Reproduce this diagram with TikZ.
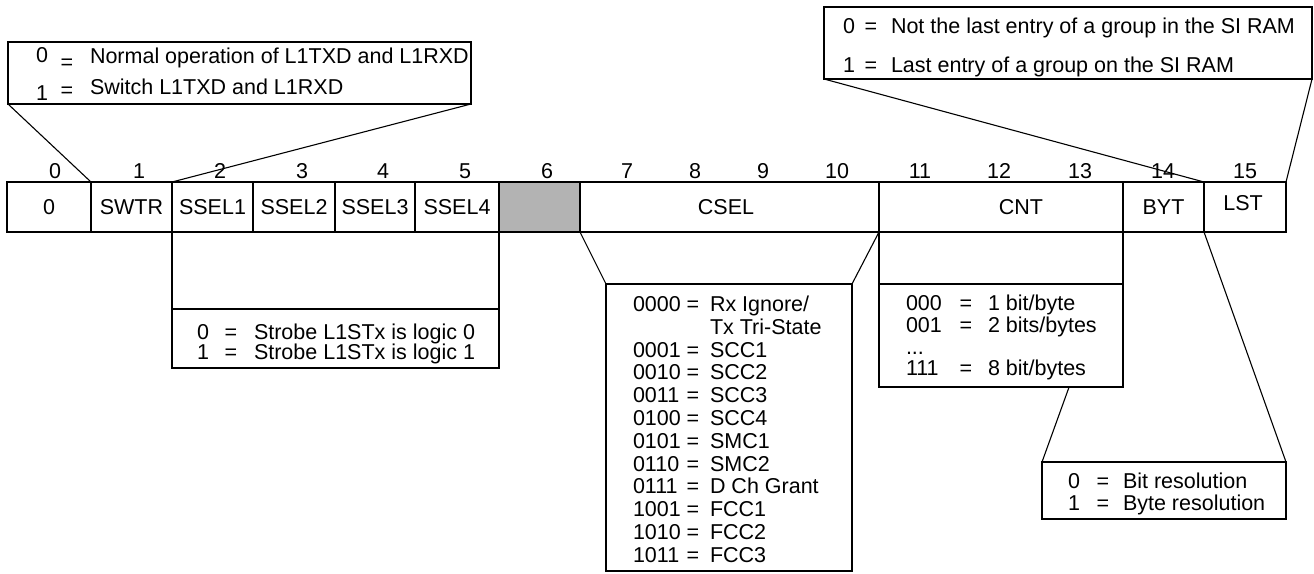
\documentclass[tikz,border=0pt]{standalone}
\usepackage{fontspec}
\setmainfont{Liberation Sans}
\usetikzlibrary{calc}
\definecolor{regrey}{RGB}{179,179,179}
\begin{document}
\begin{tikzpicture}[x=1pt,y=-1pt,
  txt/.style={inner sep=0pt, outer sep=0pt, font=\fontsize{21.5}{24}\selectfont},
  cell/.style={draw, line width=2.8pt, inner sep=0pt, outer sep=0pt, minimum height=50pt, font=\fontsize{21.5}{24}\selectfont},
  frame/.style={draw, line width=2.8pt, inner sep=0pt, outer sep=0pt},
  link/.style={line width=1.1pt}]
\useasboundingbox (0,0) rectangle (1314,573);

% register cells
\node[cell, minimum width=84pt] (b0) at (49,207) {0};
\node[cell, minimum width=81pt] (swtr) at (131.5,207) {SWTR};
\node[cell, minimum width=81pt] (ssel1) at (212.5,207) {SSEL1};
\node[cell, minimum width=82pt] (ssel2) at (294,207) {SSEL2};
\node[cell, minimum width=80pt] (ssel3) at (375,207) {SSEL3};
\node[cell, minimum width=84pt] (ssel4) at (457,207) {SSEL4};
\node[cell, fill=regrey, minimum width=81pt] (res) at (539.5,207) {};
\node[cell, minimum width=299pt] (csel) at (729.5,207) {};
\node[txt] (cseltext) at (726,207) {CSEL};
\node[cell, minimum width=244pt] (cnt) at (1001,207) {};
\node[txt] (cnttext) at (1021,207) {CNT};
\node[cell, minimum width=81pt] (byt) at (1163.5,207) {BYT};
\node[cell, minimum width=82pt] (lst) at (1245,207) {};
\node[txt] (lsttext) at (1243,203) {LST};

% bit numbers
\foreach \n/\x in {0/55,1/139,2/220,3/302,4/383,5/465,6/547,7/627,8/695,9/763,10/837,11/920,12/999,13/1080,14/1163,15/1245}
  \node[txt, anchor=base] (bit\n) at (\x,178) {\n};

% SWTR box
\node[frame, minimum width=463pt, minimum height=62pt] (swbox) at (239.5,73) {};
\node[txt, anchor=base] (sw0) at (42,62) {0};
\node[txt, anchor=base] (sweq0) at (67,69) {=};
\node[txt, anchor=base west] (swt0) at (90,63) {Normal operation of L1TXD and L1RXD};
\node[txt, anchor=base] (sw1) at (42,100.5) {1};
\node[txt, anchor=base] (sweq1) at (67,97) {=};
\node[txt, anchor=base west] (swt1) at (90,94) {Switch L1TXD and L1RXD};

% LST box
\node[frame, minimum width=488pt, minimum height=72pt] (lstbox) at (1068,43) {};
\node[txt, anchor=base] (ls0) at (849,33) {0};
\node[txt, anchor=base] (lseq0) at (871,33) {=};
\node[txt, anchor=base west] (lst0) at (891,33) {Not the last entry of a group in the SI RAM};
\node[txt, anchor=base] (ls1) at (849,72) {1};
\node[txt, anchor=base] (lseq1) at (871,72) {=};
\node[txt, anchor=base west] (lst1) at (891,72) {Last entry of a group on the SI RAM};

% SSEL box
\node[frame, minimum width=327pt, minimum height=77pt] (sselup) at (335.5,270.5) {};
\node[frame, minimum width=327pt, minimum height=59pt] (sselbox) at (335.5,338.5) {};
\node[txt, anchor=base] (ss0) at (203,339.5) {0};
\node[txt, anchor=base] (sseq0) at (231,339.5) {=};
\node[txt, anchor=base west] (sst0) at (254,339.5) {Strobe L1STx is logic 0};
\node[txt, anchor=base] (ss1) at (203,359.5) {1};
\node[txt, anchor=base] (sseq1) at (231,359.5) {=};
\node[txt, anchor=base west] (sst1) at (254,359.5) {Strobe L1STx is logic 1};

% CSEL box
\node[frame, minimum width=246pt, minimum height=287pt] (cselbox) at (729,427.5) {};
\node[txt, anchor=base west] (cc0) at (633,311.5) {0000};
\node[txt, anchor=base] (ce0) at (693,311.5) {=};
\node[txt, anchor=base west] (cv0) at (710,311.5) {Rx Ignore/};
\node[txt, anchor=base west] (cv1) at (710,334.3) {Tx Tri-State};
\foreach \i/\c/\v in {2/0001/SCC1,3/0010/SCC2,4/0011/SCC3,5/0100/SCC4,6/0101/SMC1,7/0110/SMC2,8/0111/D Ch Grant,9/1001/FCC1,10/1010/FCC2,11/1011/FCC3}{
  \node[txt, anchor=base west] (cc\i) at (633,{311.5+22.8*\i}) {\c};
  \node[txt, anchor=base] (ce\i) at (693,{311.5+22.8*\i}) {=};
  \node[txt, anchor=base west] (cv\i) at (710,{311.5+22.8*\i}) {\v};
}

% CNT box
\node[frame, minimum width=244pt, minimum height=52pt] (cntup) at (1001,258) {};
\node[frame, minimum width=244pt, minimum height=103pt] (cntbox) at (1001,335.5) {};
\node[txt, anchor=base west] (nc0) at (906,310.8) {000};
\node[txt, anchor=base] (ne0) at (966,310.8) {=};
\node[txt, anchor=base west] (nv0) at (988,310.8) {1 bit/byte};
\node[txt, anchor=base west] (nc1) at (906,332.4) {001};
\node[txt, anchor=base] (ne1) at (966,332.4) {=};
\node[txt, anchor=base west] (nv1) at (988,332.4) {2 bits/bytes};
\node[txt, anchor=base west] (ndots) at (906,354) {...};
\node[txt, anchor=base west] (nc3) at (906,375.6) {111};
\node[txt, anchor=base] (ne3) at (966,375.6) {=};
\node[txt, anchor=base west] (nv3) at (988,375.6) {8 bit/bytes};

% BYT box
\node[frame, minimum width=244pt, minimum height=57pt] (bytbox) at (1164,490.5) {};
\node[txt, anchor=base] (by0) at (1074,488) {0};
\node[txt, anchor=base] (byeq0) at (1103,488) {=};
\node[txt, anchor=base west] (byt0) at (1123,488) {Bit resolution};
\node[txt, anchor=base] (by1) at (1074,510.5) {1};
\node[txt, anchor=base] (byeq1) at (1103,510.5) {=};
\node[txt, anchor=base west] (byt1) at (1123,510.5) {Byte resolution};

% connectors
\draw[link] (swbox.south west) -- (swtr.north west);
\draw[link] (swbox.south east) -- (ssel1.north west);
\draw[link] (lstbox.south west) -- (lst.north west);
\draw[link] (lstbox.south east) -- (lst.north east);
\draw[link] (csel.south west) -- (cselbox.north west);
\draw[link] (csel.south east) -- (cselbox.north east);
\coordinate (cntfoot) at ($(cntbox.south west)!0.779!(cntbox.south east)$);
\draw[link] (cntfoot) -- (bytbox.north west);
\draw[link] (lst.south west) -- (bytbox.north east);
\end{tikzpicture}
\end{document}
